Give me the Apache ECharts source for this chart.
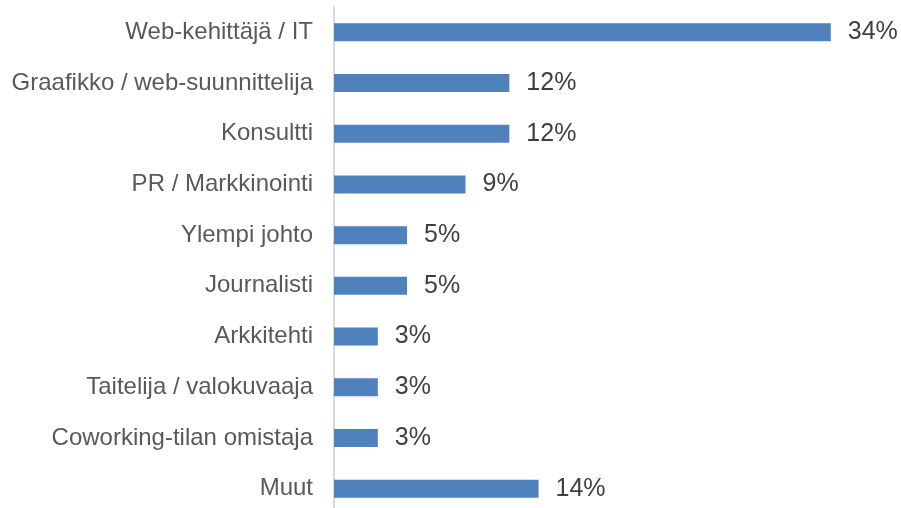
<!DOCTYPE html>
<html>
<head>
<meta charset="utf-8">
<script src="https://cdn.jsdelivr.net/npm/echarts@6/dist/echarts.min.js"></script>
<style>
  html, body { margin: 0; padding: 0; background: #fff; }
  #chart { width: 901px; height: 508px; }
</style>
</head>
<body>
<div id="chart"></div>
<script>
const categories = [
  "Web-kehittäjä / IT",
  "Graafikko / web-suunnittelija",
  "Konsultti",
  "PR / Markkinointi",
  "Ylempi johto",
  "Journalisti",
  "Arkkitehti",
  "Taitelija / valokuvaaja",
  "Coworking-tilan omistaja",
  "Muut"
];
const shares = [34, 12, 12, 9, 5, 5, 3, 3, 3, 14];

const chart = echarts.init(document.getElementById("chart"));
const option = {
  animation: false,
  textStyle: { fontFamily: "Liberation Sans, Arial, sans-serif" },
  grid: {
    left: 334,
    top: 7,
    width: 526,
    height: 507,
    outerBoundsMode: "none"
  },
  xAxis: {
    type: "value",
    min: 0,
    max: 36,
    show: false
  },
  yAxis: {
    type: "category",
    inverse: true,
    data: categories,
    axisLine: { lineStyle: { color: "#d9d9d9", width: 2 } },
    axisTick: { show: false },
    axisLabel: {
      color: "#595959",
      fontSize: 24,
      margin: 21
    }
  },
  series: [
    {
      type: "bar",
      data: shares,
      barWidth: 18,
      itemStyle: { color: "#4f81bd" },
      label: {
        show: true,
        position: "right",
        distance: 17,
        color: "#404040",
        fontSize: 25,
        formatter: (p) => p.value + "%"
      }
    }
  ]
};
chart.setOption(option);
</script>
</body>
</html>
